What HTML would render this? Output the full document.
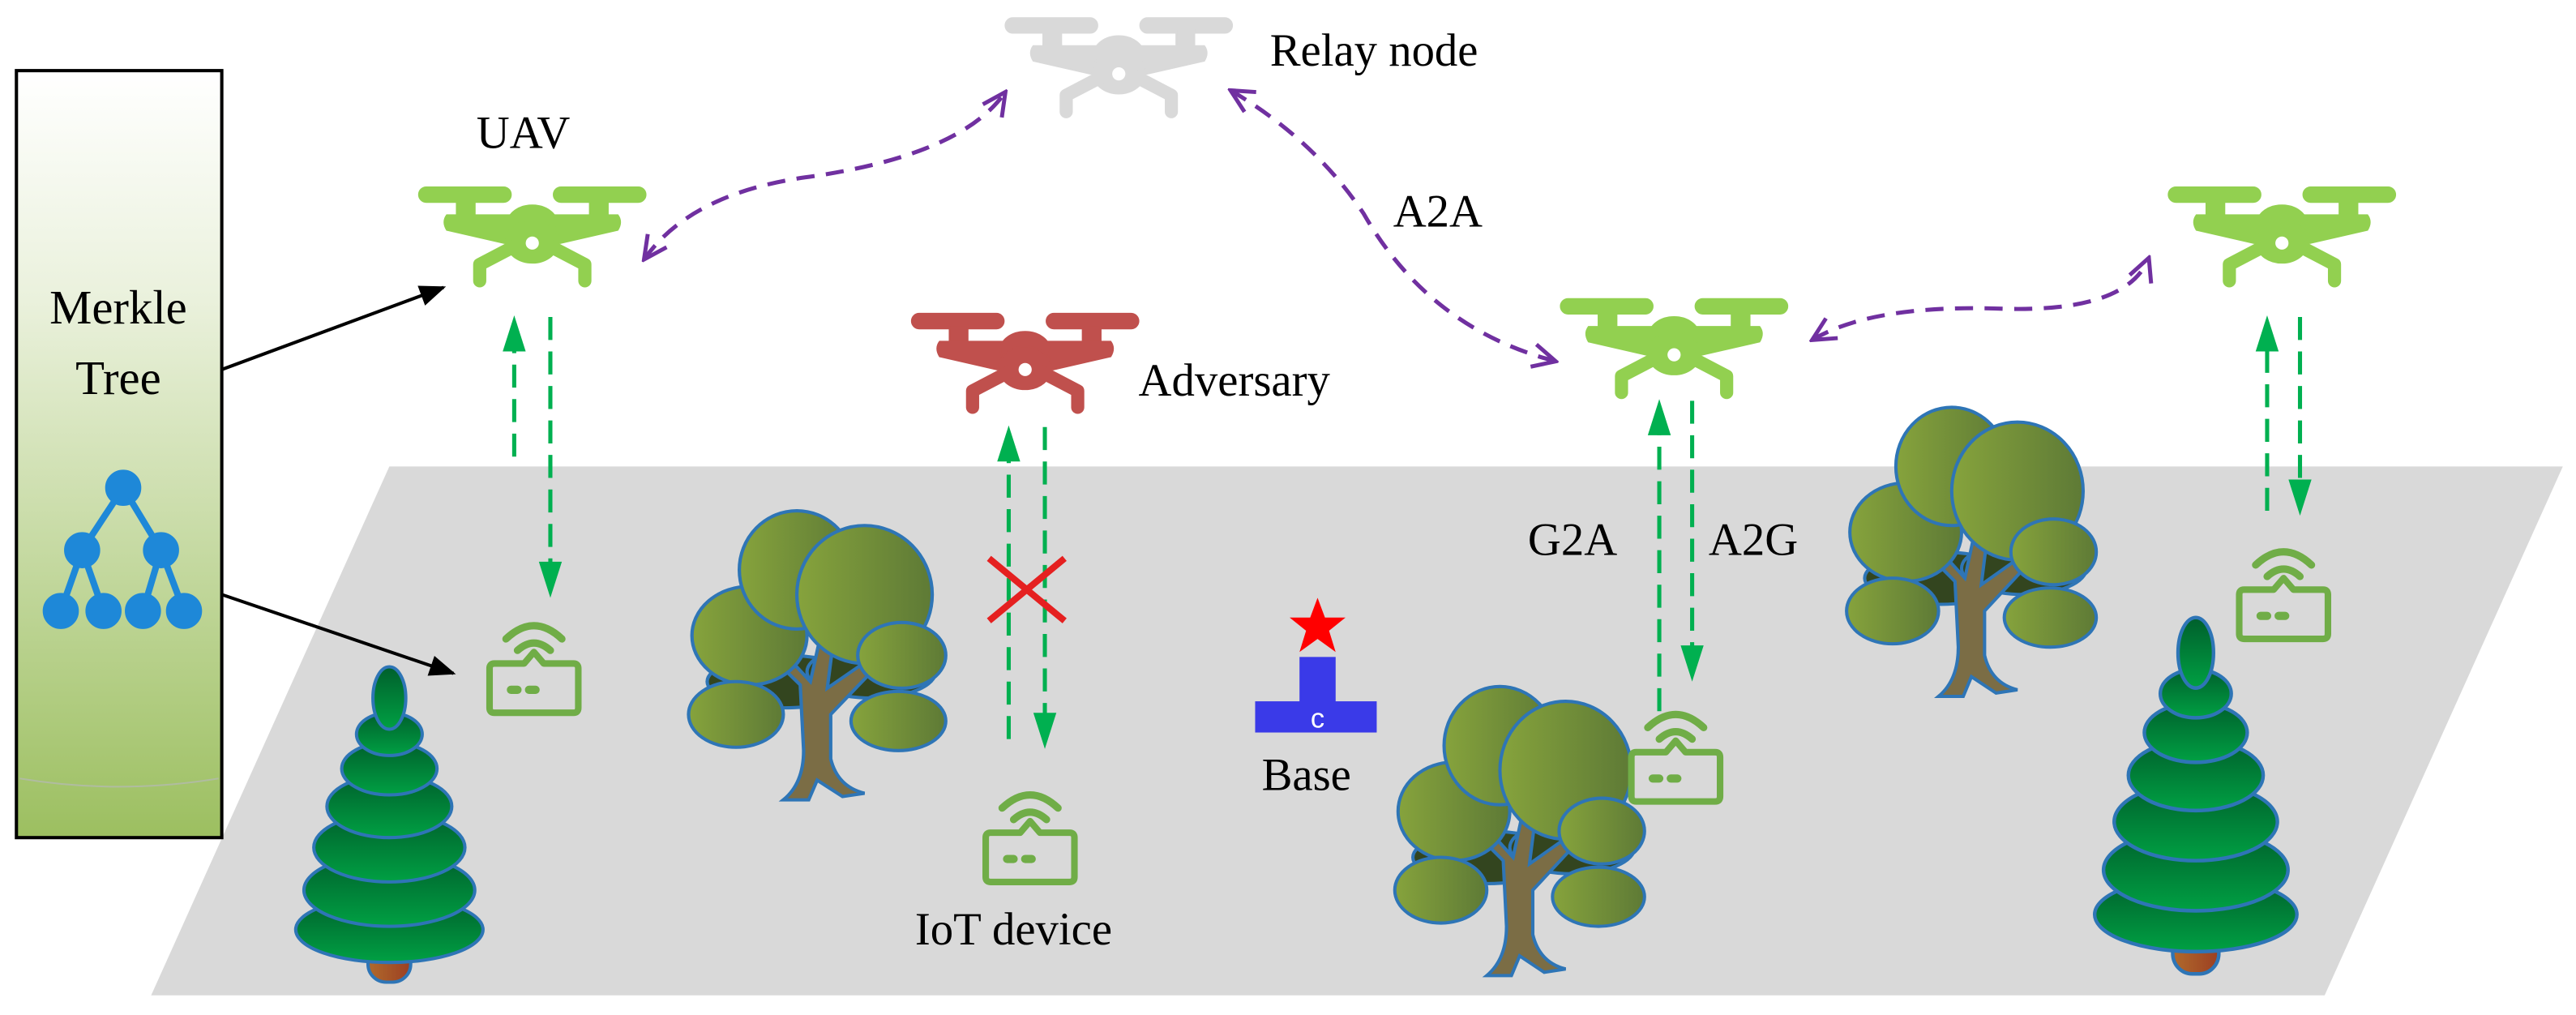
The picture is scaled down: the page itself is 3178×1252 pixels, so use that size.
<!DOCTYPE html>
<html><head><meta charset="utf-8"><style>
html,body{margin:0;padding:0;background:#fff;}
svg{display:block;}
text{font-family:"Liberation Serif",serif;fill:#000;}
</style></head><body>
<svg width="3178" height="1252" viewBox="0 0 1568 618" preserveAspectRatio="none" xmlns="http://www.w3.org/2000/svg">
<defs>
<linearGradient id="box" x1="0" y1="0" x2="0" y2="1">
<stop offset="0" stop-color="#ffffff"/><stop offset="0.3" stop-color="#eaf1dc"/><stop offset="1" stop-color="#9cbf60"/></linearGradient>
<linearGradient id="pine" x1="0" y1="0" x2="0" y2="1">
<stop offset="0" stop-color="#005f2c"/><stop offset="1" stop-color="#00a043"/></linearGradient>
<linearGradient id="leaf" x1="0" y1="0" x2="1" y2="0">
<stop offset="0" stop-color="#86a33c"/><stop offset="1" stop-color="#5e7a36"/></linearGradient>
<linearGradient id="trunk" x1="0" y1="0" x2="1" y2="0">
<stop offset="0" stop-color="#b06a2c"/><stop offset="1" stop-color="#9c3f22"/></linearGradient>
<g id="drone">
<rect x="0" y="0" width="56" height="9" rx="4.5"/>
<rect x="82" y="0" width="56" height="9" rx="4.5"/>
<rect x="23" y="7" width="11" height="12"/>
<rect x="104" y="7" width="11" height="12"/>
<path d="M17 17 L121 17 Q124 21 121 26 L86 34 L52 34 L17 26 Q14 21 17 17Z"/>
<ellipse cx="69" cy="22" rx="15" ry="11"/>
<ellipse cx="69" cy="33" rx="16" ry="13"/>
<path d="M60 35 L37 47 L37 57 M78 35 L101 47 L101 57" fill="none" stroke-width="8" stroke-linecap="round" stroke-linejoin="round"/>
<circle cx="69" cy="34" r="4" fill="#fff" stroke="none"/>
</g>
<g id="iot" fill="none" stroke="#70ad47" stroke-linecap="round" stroke-linejoin="round">
<path d="M13 13 Q30 -3 47 13" stroke-width="4.5"/>
<path d="M20 20 Q30 11 40 20" stroke-width="4.5"/>
<path d="M6 28 L24 28 L30 21 L36 28 L54 28 Q57 28 57 31 L57 55 Q57 58 54 58 L6 58 Q3 58 3 55 L3 31 Q3 28 6 28Z" stroke-width="4"/>
<path d="M16 44 L20 44 M27 44 L31 44" stroke-width="5"/>
</g>
<g id="pinetree" stroke="#2e75b6" stroke-width="2">
<rect x="44" y="150" width="26" height="42" rx="11" fill="url(#trunk)"/>
<ellipse cx="57" cy="160" rx="57" ry="20" fill="url(#pine)"/>
<ellipse cx="57" cy="136" rx="52" ry="22" fill="url(#pine)"/>
<ellipse cx="57" cy="110" rx="46" ry="21" fill="url(#pine)"/>
<ellipse cx="57" cy="85" rx="38" ry="19" fill="url(#pine)"/>
<ellipse cx="57" cy="62" rx="29" ry="16" fill="url(#pine)"/>
<ellipse cx="57" cy="41" rx="20" ry="13" fill="url(#pine)"/>
<ellipse cx="57" cy="19" rx="10" ry="19" fill="url(#pine)"/>
</g>
<g id="oak" stroke="#2e75b6" stroke-width="2">
<ellipse cx="60" cy="108" rx="45" ry="16" fill="#33451f"/>
<ellipse cx="112" cy="102" rx="38" ry="16" fill="#33451f"/>
<path d="M60 180 Q72 170 72 150 L70 110 L50 90 L58 88 L76 108 L82 80 L90 80 L86 112 L110 95 L114 100 L88 128 L88 155 Q92 172 108 176 L95 178 L80 168 L75 180 Z" fill="#7b6d45"/>
<ellipse cx="40" cy="80" rx="34" ry="30" fill="url(#leaf)"/>
<ellipse cx="68" cy="40" rx="34" ry="36" fill="url(#leaf)"/>
<ellipse cx="108" cy="55" rx="40" ry="42" fill="url(#leaf)"/>
<ellipse cx="130" cy="92" rx="26" ry="20" fill="url(#leaf)"/>
<ellipse cx="32" cy="128" rx="28" ry="20" fill="url(#leaf)"/>
<ellipse cx="128" cy="132" rx="28" ry="18" fill="url(#leaf)"/>
</g>
<marker id="bh" viewBox="0 0 10 10" refX="9" refY="5" markerWidth="9" markerHeight="8" orient="auto" markerUnits="strokeWidth"><path d="M0 1 L10 5 L0 9Z" fill="#000"/></marker>
<marker id="ph" viewBox="0 0 10 10" refX="9" refY="5" markerWidth="7" markerHeight="7" orient="auto" markerUnits="strokeWidth"><path d="M1 1 L9 5 L1 9" fill="none" stroke="#7030a0" stroke-width="1.4"/></marker>
<marker id="phs" viewBox="0 0 10 10" refX="1" refY="5" markerWidth="7" markerHeight="7" orient="auto" markerUnits="strokeWidth"><path d="M9 1 L1 5 L9 9" fill="none" stroke="#7030a0" stroke-width="1.4"/></marker>
</defs>

<polygon points="237,284 1560,284 1415,606 92,606" fill="#d9d9d9"/>

<rect x="10" y="43" width="125" height="467" fill="url(#box)" stroke="#000" stroke-width="2"/>
<path d="M12 474 Q72 484 133 474" stroke="#b0bca0" stroke-width="1" fill="none"/>
<text x="72" y="197" font-size="29" text-anchor="middle">Merkle</text>
<text x="72" y="240" font-size="29" text-anchor="middle">Tree</text>
<g stroke="#1e88d8" stroke-width="4" fill="#1e88d8">
<path d="M75 297 L50 335 M75 297 L98 335 M50 335 L37 372 M50 335 L63 372 M98 335 L87 372 M98 335 L112 372"/>
<circle cx="75" cy="297" r="9"/><circle cx="50" cy="335" r="9"/><circle cx="98" cy="335" r="9"/>
<circle cx="37" cy="372" r="9"/><circle cx="63" cy="372" r="9"/><circle cx="87" cy="372" r="9"/><circle cx="112" cy="372" r="9"/>
</g>

<line x1="135" y1="225" x2="270" y2="175" stroke="#000" stroke-width="2" marker-end="url(#bh)"/>
<line x1="135" y1="362" x2="276" y2="410" stroke="#000" stroke-width="2" marker-end="url(#bh)"/>

<use href="#pinetree" transform="translate(180,406)"/>
<use href="#pinetree" transform="translate(1275,376) scale(1.08,1.13)"/>
<use href="#oak" transform="translate(415,307) scale(1.03,1.0)"/>
<use href="#oak" transform="translate(845,414)"/>
<use href="#oak" transform="translate(1120,244)"/>

<use href="#drone" x="612" y="11" fill="#d9d9d9" stroke="#d9d9d9"/>
<use href="#drone" x="255" y="114" fill="#92d050" stroke="#92d050"/>
<use href="#drone" x="555" y="191" fill="#c0504d" stroke="#c0504d"/>
<use href="#drone" x="950" y="182" fill="#92d050" stroke="#92d050"/>
<use href="#drone" x="1320" y="114" fill="#92d050" stroke="#92d050"/>

<use href="#iot" x="295" y="376"/>
<use href="#iot" x="597" y="479"/>
<use href="#iot" x="990" y="430"/>
<use href="#iot" x="1360" y="331"/>

<rect x="791" y="400" width="22" height="30" fill="#3a3ae8"/>
<rect x="764" y="427" width="74" height="19" fill="#3a3ae8"/>
<text x="802" y="443" font-size="17" text-anchor="middle" style="fill:#fff;font-family:'Liberation Sans',sans-serif">c</text>
<polygon points="802,364 806.5,376 819,376 809,384 813,397 802,389 791,397 795,384 785,376 797.5,376" fill="#ff0000"/>

<g stroke="#00b050" stroke-width="2.5" stroke-dasharray="14,7" fill="none">
<line x1="313" y1="278" x2="313" y2="210"/>
<line x1="335" y1="193" x2="335" y2="345"/>
<line x1="614" y1="450" x2="614" y2="278"/>
<line x1="636" y1="260" x2="636" y2="437"/>
<line x1="1010" y1="433" x2="1010" y2="262"/>
<line x1="1030" y1="244" x2="1030" y2="396"/>
<line x1="1380" y1="311" x2="1380" y2="211"/>
<line x1="1400" y1="193" x2="1400" y2="295"/>
</g>
<g fill="#00b050">
<polygon points="313,192 306,214 320,214"/>
<polygon points="335,364 328,342 342,342"/>
<polygon points="614,259 607,281 621,281"/>
<polygon points="636,456 629,434 643,434"/>
<polygon points="1010,243 1003,265 1017,265"/>
<polygon points="1030,415 1023,393 1037,393"/>
<polygon points="1380,192 1373,214 1387,214"/>
<polygon points="1400,314 1393,292 1407,292"/>
</g>
<path d="M602 340 L648 378 M648 340 L602 378" stroke="#e52020" stroke-width="4"/>

<g stroke="#7030a0" stroke-width="2.5" stroke-dasharray="11,7" fill="none">
<path d="M392 158 Q420 118 490 108 Q585 95 612 56" marker-start="url(#phs)" marker-end="url(#ph)"/>
<path d="M749 55 Q800 85 830 130 Q870 200 947 220" marker-start="url(#phs)" marker-end="url(#ph)"/>
<path d="M1103 207 Q1140 185 1220 188 Q1295 190 1308 157" marker-start="url(#phs)" marker-end="url(#ph)"/>
</g>

<text x="773" y="40" font-size="28">Relay node</text>
<text x="290" y="90" font-size="28">UAV</text>
<text x="848" y="138" font-size="28">A2A</text>
<text x="693" y="241" font-size="28">Adversary</text>
<text x="930" y="338" font-size="28">G2A</text>
<text x="1040" y="338" font-size="28">A2G</text>
<text x="768" y="481" font-size="28">Base</text>
<text x="557" y="575" font-size="28">IoT device</text>
</svg>
</body></html>
